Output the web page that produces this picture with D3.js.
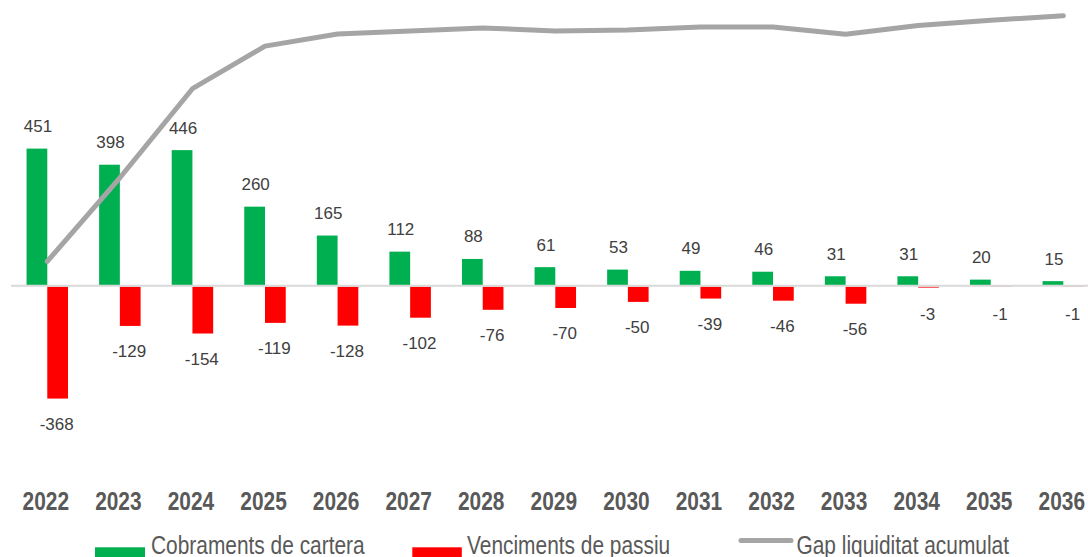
<!DOCTYPE html>
<html>
<head>
<meta charset="utf-8">
<script src="https://cdn.jsdelivr.net/npm/d3@7"></script>
<style>
  html, body { margin: 0; padding: 0; background: #fff; overflow: hidden; }
  svg { display: block; }
</style>
</head>
<body>
<svg id="chart" width="1088" height="557"></svg>
<script>
// data
const years = ["2022","2023","2024","2025","2026","2027","2028","2029","2030","2031","2032","2033","2034","2035","2036"];
const cobraments = [451, 398, 446, 260, 165, 112, 88, 61, 53, 49, 46, 31, 31, 20, 15];
const venciments = [-368, -129, -154, -119, -128, -102, -76, -70, -50, -39, -46, -56, -3, -1, -1];
// (same axis as bars)
const gapAcumulat = [80, 355, 648, 788, 828, 838, 848, 838, 841, 851, 851, 827, 856, 873, 888];
const seriesNames = ["Cobraments de cartera", "Venciments de passiu", "Gap liquiditat acumulat"];

const svg = d3.select("#chart");
const font = "'Liberation Sans', Arial, sans-serif";
const narrowX = 0.82; // no narrow font installed, squeeze Liberation Sans instead

const x = d3.scaleBand().domain(years).range([11, 1099.6]).padding(0);
const xs = d3.scaleBand().domain(["c", "v"]).range([0, x.bandwidth()]).paddingInner(0).paddingOuter(0.75);
const y = d3.scaleLinear().domain([-450, 900]).range([422.5, 12.1]);

const colors = { c: "#00b050", v: "#ff0000", line: "#a5a5a5" };

// bars
const gBars = svg.append("g");
gBars.selectAll("rect.c").data(cobraments).join("rect")
    .attr("class", "c")
    .attr("x", (d, i) => x(years[i]) + xs("c"))
    .attr("y", d => y(d))
    .attr("width", xs.bandwidth())
    .attr("height", d => y(0) - y(d))
    .attr("fill", colors.c);
gBars.selectAll("rect.v").data(venciments).join("rect")
    .attr("class", "v")
    .attr("x", (d, i) => x(years[i]) + xs("v"))
    .attr("y", y(0) + 1)
    .attr("width", xs.bandwidth())
    .attr("height", d => y(d) - y(0))
    .attr("fill", colors.v);

// zero axis line
svg.append("line")
    .attr("x1", 11).attr("x2", 1100)
    .attr("y1", y(0)).attr("y2", y(0))
    .attr("stroke", "#d9d9d9").attr("stroke-width", 2);

// data labels
const gLab = svg.append("g").attr("font-family", font).attr("font-size", 17).attr("fill", "#404040").attr("text-anchor", "middle");
gLab.selectAll("text.c").data(cobraments).join("text")
    .attr("class", "c")
    .attr("x", (d, i) => x(years[i]) + xs("c") + xs.bandwidth() / 2 + 1)
    .attr("y", d => y(d) - 16.5)
    .text(d => d);
gLab.selectAll("text.v").data(venciments).join("text")
    .attr("class", "v")
    .attr("x", (d, i) => x(years[i]) + xs("v") + xs.bandwidth() / 2 - 1)
    .attr("y", d => Math.max(y(d), y(0) + 2) + 32)
    .text(d => d);

// accumulated gap line
const line = d3.line()
    .x((d, i) => x(years[i]) + x.bandwidth() / 2)
    .y(d => y(d));
svg.append("path")
    .datum(gapAcumulat)
    .attr("d", line)
    .attr("fill", "none")
    .attr("stroke", colors.line)
    .attr("stroke-width", 5)
    .attr("stroke-linejoin", "round")
    .attr("stroke-linecap", "round");

// category labels
svg.append("g").selectAll("text").data(years).join("text")
    .attr("transform", d => `translate(${x(d) + x.bandwidth() / 2 - 1.5},509.5) scale(${narrowX},1)`)
    .attr("text-anchor", "middle")
    .attr("font-family", font)
    .attr("font-weight", "bold")
    .attr("font-size", 25.5)
    .attr("fill", "#595959")
    .text(d => d);

// legend
const leg = svg.append("g").attr("font-family", font).attr("font-size", 25.5).attr("fill", "#595959");
const legText = (tx, s) => leg.append("text").attr("transform", `translate(${tx},553.5) scale(${narrowX},1)`).text(s);
leg.append("rect").attr("x", 95).attr("y", 547.3).attr("width", 50).attr("height", 13.5).attr("fill", colors.c);
legText(151, seriesNames[0]);
leg.append("rect").attr("x", 412.3).attr("y", 547.3).attr("width", 49.5).attr("height", 13.5).attr("fill", colors.v);
legText(467, seriesNames[1]);
leg.append("line").attr("x1", 741).attr("x2", 791).attr("y1", 540.5).attr("y2", 540.5)
    .attr("stroke", colors.line).attr("stroke-width", 5).attr("stroke-linecap", "round");
legText(796.5, seriesNames[2]);
</script>
</body>
</html>
